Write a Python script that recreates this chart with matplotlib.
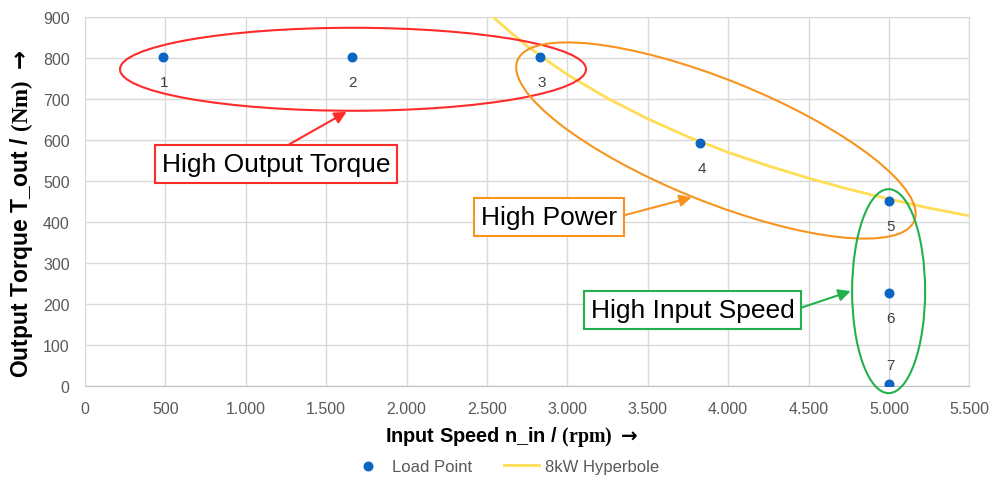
import matplotlib
matplotlib.use("Agg")
import matplotlib.pyplot as plt
from matplotlib.patches import Ellipse
from matplotlib.ticker import FuncFormatter, MultipleLocator
from matplotlib.transforms import ScaledTranslation

plt.rcParams["font.family"] = ["Liberation Sans", "DejaVu Sans"]
plt.rcParams["mathtext.fontset"] = "custom"
plt.rcParams["mathtext.rm"] = "Liberation Serif"
plt.rcParams["mathtext.bf"] = "Liberation Serif:bold"
plt.rcParams["mathtext.sf"] = "DejaVu Sans:bold"

# load points
point_ids = ["1", "2", "3", "4", "5", "6", "7"]
speed_rpm = [483, 1658, 2832, 3825, 5000, 5000, 5000]
torque_nm = [804, 804, 804, 593, 452, 227, 4]

# 8 kW hyperbola
hyp_speed = [2540, 2650, 2750, 2875, 3000, 3250, 3500, 3750, 4000, 4250, 4500, 4750, 5000, 5250, 5500]
hyp_torque = [900, 862, 830, 794, 760, 702, 652, 608, 570, 537, 507, 480, 456, 434, 415]

BLUE = "#0A66C2"
YELLOW = "#FFDD55"
RED = "#FF2A2A"
ORANGE = "#F7941D"
GREEN = "#22B14C"
GRID = "#D9D9D9"
TXT = "#595959"

fig = plt.figure(figsize=(10.02, 4.81), dpi=100)
ax = fig.add_axes([0.0848, 0.196, 0.8826, 0.766])

ax.plot(hyp_speed, hyp_torque, color=YELLOW, lw=2, label="8kW Hyperbole", zorder=3)
ax.scatter(speed_rpm, torque_nm, s=38, color=BLUE, label="Load Point", zorder=6)

for pid, x, y in zip(point_ids, speed_rpm, torque_nm):
    dy = 14 if pid == "7" else -18
    ax.annotate(pid, (x, y), xytext=(1, dy), textcoords="offset points",
                ha="center", va="center", fontsize=11, color="#404040", zorder=7)

ax.set_xlim(0, 5500)
ax.set_ylim(0, 900)
ax.xaxis.set_major_locator(MultipleLocator(500))
ax.yaxis.set_major_locator(MultipleLocator(100))
ax.xaxis.set_major_formatter(FuncFormatter(lambda v, _: f"{int(v):,}".replace(",", ".")))
ax.grid(True, color=GRID, lw=1)
ax.set_axisbelow(True)
for side in ["top", "right", "left"]:
    ax.spines[side].set_color(GRID)
ax.spines["bottom"].set_color("#BFBFBF")
ax.tick_params(length=0, labelsize=11.5, labelcolor=TXT, pad=11)

ax.set_xlabel(r"Input Speed n_in / $\mathbf{(rpm)}$ $\mathsf{\rightarrow}$", fontsize=14.3, fontweight="bold")
ax.set_ylabel(r"Output Torque T_out / $\mathbf{(Nm)}$ $\mathsf{\rightarrow}$", fontsize=16.5, fontweight="bold")
ax.xaxis.set_label_coords(0.482, -0.104)
ax.yaxis.set_label_coords(-0.057, 0.47)


def ring(cx, cy, w, h, angle, color):
    # ellipse sized in inches, anchored at a data point
    trans = fig.dpi_scale_trans + ScaledTranslation(cx, cy, ax.transData)
    ax.add_patch(Ellipse((0, 0), w, h, angle=angle, transform=trans, fill=False,
                         edgecolor=color, lw=1.5, zorder=5, clip_on=False))


ring(1667, 773, 4.66, 0.83, 0, RED)
ring(3924, 599, 4.28, 1.22, -22, ORANGE)
ring(4998, 231, 0.73, 2.04, 0, GREEN)


def callout(text, xy, xytext, color, relpos):
    ax.annotate(text, xy=xy, xytext=xytext, ha="center", va="center", fontsize=19,
                bbox=dict(boxstyle="square,pad=0.26", fc="white", ec=color, lw=1.5),
                arrowprops=dict(arrowstyle="-|>,head_length=0.6,head_width=0.3", color=color,
                                lw=1.5, relpos=relpos, shrinkA=0, shrinkB=0, mutation_scale=12),
                zorder=8)


callout("High Output Torque", (1627, 669), (1188, 542), RED, (0.5, 1))
callout("High Power", (3773, 460), (2888, 412), ORANGE, (1, 0.5))
callout("High Input Speed", (4762, 231), (3778, 185), GREEN, (1, 0.5))

handles, labels = ax.get_legend_handles_labels()
fig.legend(handles[::-1], labels[::-1], loc="center", bbox_to_anchor=(0.504, 0.029), ncol=2,
           frameon=False, fontsize=12, handlelength=2.1, handletextpad=0.4,
           columnspacing=1.86, labelcolor=TXT)

fig.savefig("out.png", dpi=100)
